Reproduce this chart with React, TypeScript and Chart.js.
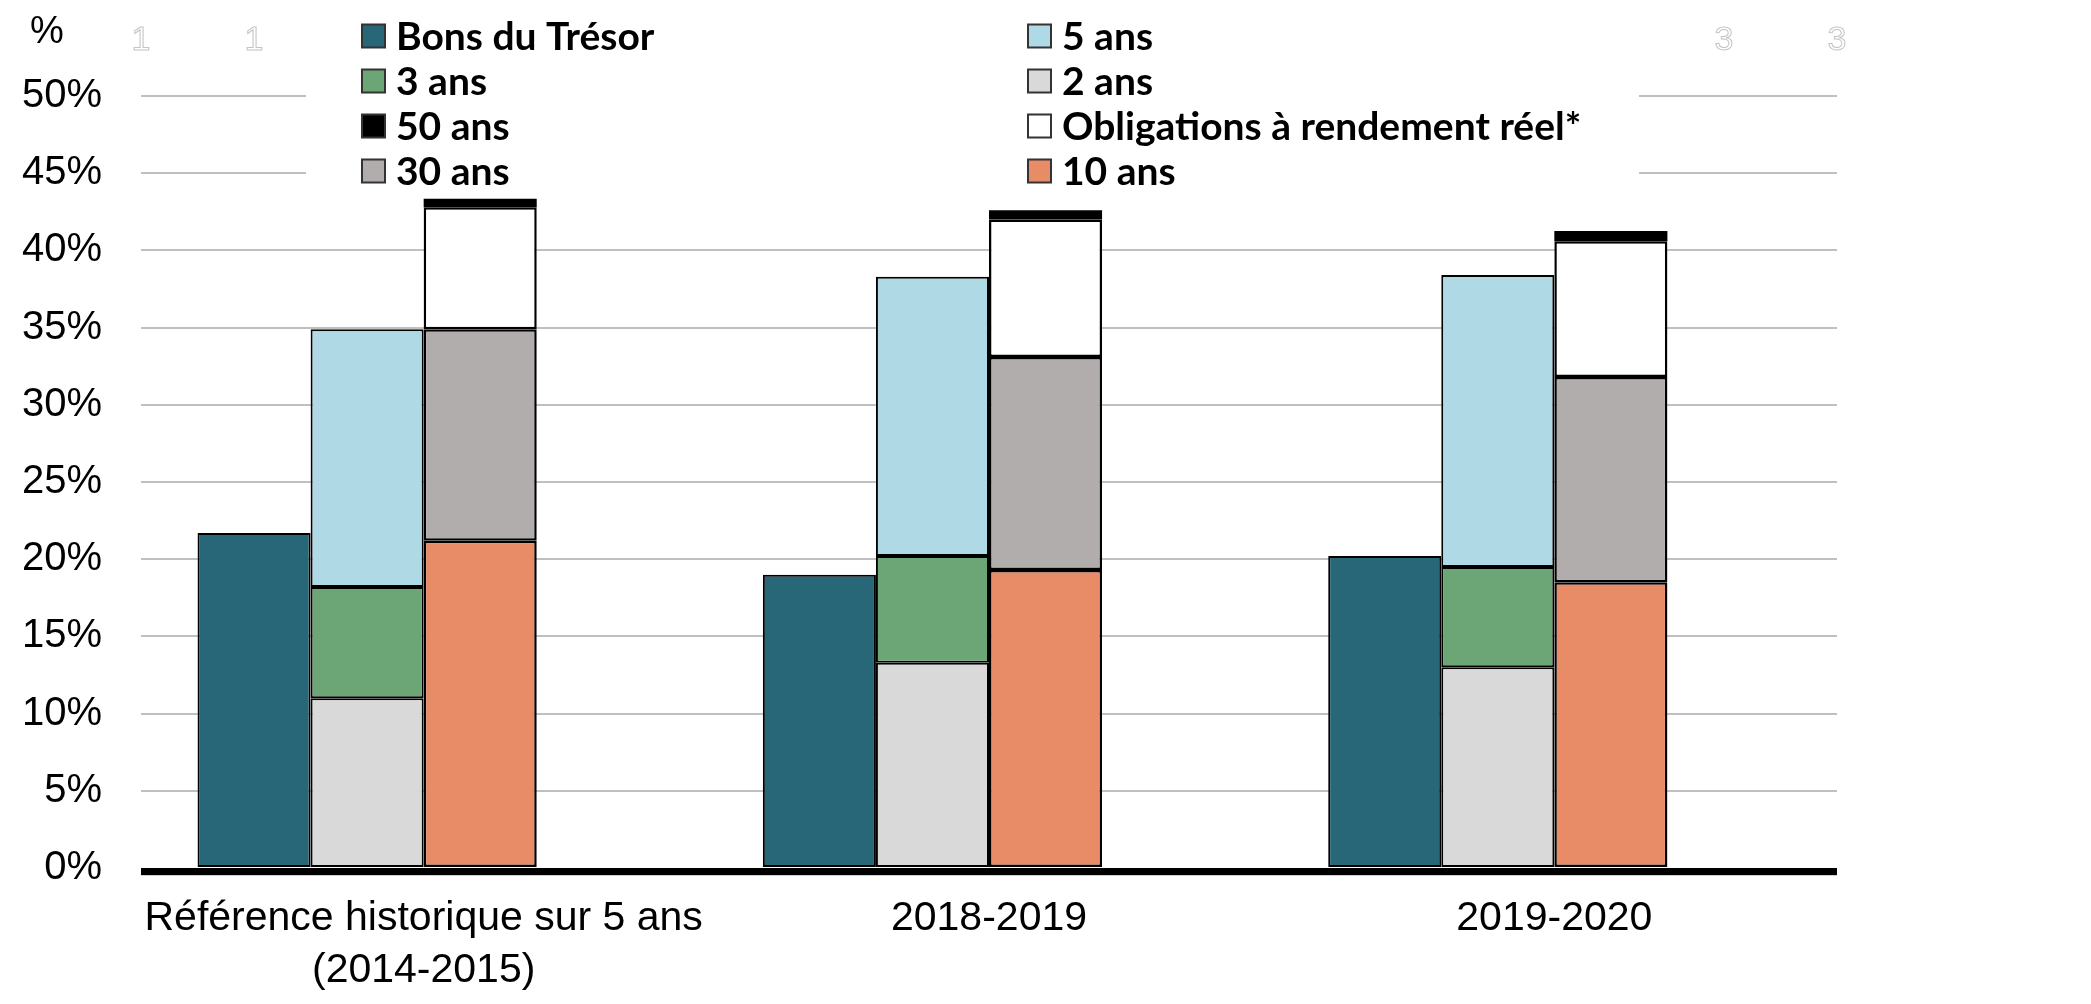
import React, { useEffect, useRef } from "react";
import { Chart, registerables } from "chart.js";

Chart.register(...registerables);

// ---- Data ----
const categories: (string | string[])[] = [
  ["Référence historique sur 5 ans", "(2014-2015)"],
  "2018-2019",
  "2019-2020",
];
const yMin = 0;
const yMax = 50;
const yStep = 5;

const billsValues = [21.7, 19.0, 20.2];
const twoYearValues = [11.0, 13.3, 13.0];
const threeYearValues = [7.2, 6.9, 6.5];
const fiveYearValues = [16.7, 18.1, 18.9];
const tenYearValues = [21.2, 19.3, 18.5];
const thirtyYearValues = [13.7, 13.8, 13.3];
const rrbValues = [7.9, 8.9, 8.8];
const fiftyYearValues = [0.55, 0.6, 0.65];
const spacerValues = [0, 0, 0];

const seriesNames = [
  "Bons du Trésor",
  "2 ans",
  "3 ans",
  "5 ans",
  "10 ans",
  "30 ans",
  "Obligations à rendement réel*",
  "50 ans",
];
const seriesColors = [
  "#286778",
  "#d9d9d9",
  "#6ca676",
  "#b0d9e6",
  "#e88b67",
  "#b0adac",
  "#ffffff",
  "#000000",
];
// legend rows (indices into seriesNames), two columns
const legendRows = [
  [0, 3],
  [2, 1],
  [7, 6],
  [5, 4],
];
const ghostLabels = ["1", "1", "3", "3"];
const ghostFractions = [0, 1 / 15, 14 / 15, 1];

const FONT = "'Liberation Sans', Arial, sans-serif";

const decorPlugin = {
  id: "decor",
  beforeDatasetsDraw(chart: any) {
    const ctx = chart.ctx;
    ctx.save();
    // legend background (hides grid lines behind legend)
    ctx.fillStyle = "#ffffff";
    ctx.fillRect(306, 0, 1639 - 306, 192);
    // legend items
    const colX = [362, 1028];
    const rowY = [36, 81, 126, 171];
    ctx.font = "bold 39px Lato, 'Open Sans', sans-serif";
    ctx.textBaseline = "middle";
    ctx.textAlign = "left";
    legendRows.forEach((row, r) => {
      row.forEach((si, c) => {
        const x = colX[c];
        const y = rowY[r];
        ctx.fillStyle = seriesColors[si];
        ctx.fillRect(x, y - 11.5, 23, 23);
        ctx.lineWidth = 2;
        ctx.strokeStyle = "#333333";
        ctx.strokeRect(x, y - 11.5, 23, 23);
        ctx.fillStyle = "#000000";
        ctx.fillText(seriesNames[si], x + 34, y + 1);
      });
    });
    ctx.restore();
  },
  afterDatasetsDraw(chart: any) {
    const ctx = chart.ctx;
    const ca = chart.chartArea;
    ctx.save();
    // thick baseline
    ctx.fillStyle = "#000000";
    ctx.fillRect(ca.left, ca.bottom, ca.right - ca.left, 7);
    ctx.fillStyle = "#d0d0d0";
    ctx.fillRect(ca.left, ca.bottom + 7, ca.right - ca.left, 1);
    // unit label
    ctx.fillStyle = "#000000";
    ctx.font = `38px ${FONT}`;
    ctx.textAlign = "center";
    ctx.textBaseline = "middle";
    ctx.fillText("%", 47, 33);
    // faint ghost labels of hidden secondary axis
    ctx.font = `34px ${FONT}`;
    ctx.strokeStyle = "#c4c4c4";
    ctx.lineWidth = 1;
    ghostLabels.forEach((t, i) => {
      const x = ca.left + (ca.right - ca.left) * ghostFractions[i];
      ctx.strokeText(t, x, 41);
    });
    ctx.restore();
  },
};

export default function App() {
  const canvasRef = useRef<HTMLCanvasElement | null>(null);

  useEffect(() => {
    if (!canvasRef.current) return;
    const mk = (i: number, data: number[], stack: string, bw: number) => ({
      label: seriesNames[i],
      data,
      stack,
      backgroundColor: seriesColors[i],
      borderColor: "#000000",
      borderWidth: bw,
      borderSkipped: false as const,
    });
    const chart = new Chart(canvasRef.current, {
      type: "bar",
      data: {
        labels: categories,
        datasets: [
          mk(0, billsValues, "a", 2),
          mk(1, twoYearValues, "b", 2),
          mk(2, threeYearValues, "b", 2),
          mk(3, fiveYearValues, "b", 2),
          mk(4, tenYearValues, "c", 2.5),
          mk(5, thirtyYearValues, "c", 2.5),
          mk(6, rrbValues, "c", 2.5),
          mk(7, fiftyYearValues, "c", 0),
          {
            label: "",
            data: spacerValues,
            stack: "d",
            backgroundColor: "rgba(0,0,0,0)",
            borderWidth: 0,
          },
        ],
      },
      options: {
        responsive: true,
        maintainAspectRatio: false,
        animation: false,
        layout: { padding: { top: 96, right: 254, bottom: 0, left: 0 } },
        datasets: { bar: { categoryPercentage: 0.8, barPercentage: 1.0 } },
        plugins: {
          legend: { display: false },
          tooltip: { enabled: false },
          title: { display: false },
        },
        scales: {
          x: {
            stacked: true,
            grid: { display: false, drawTicks: false },
            border: { display: false },
            ticks: {
              color: "#000000",
              padding: 24,
              maxRotation: 0,
              autoSkip: false,
              font: { family: FONT, size: 41, lineHeight: 1.28 },
            },
            afterFit: (s: any) => {
              s.height = 136;
            },
          },
          y: {
            stacked: true,
            min: yMin,
            max: yMax,
            grid: {
              drawTicks: false,
              lineWidth: 2,
              color: (c: any) => (c.tick && c.tick.value === 0 ? "rgba(0,0,0,0)" : "#c0c0c0"),
            },
            border: { display: false },
            ticks: {
              stepSize: yStep,
              color: "#000000",
              padding: 39,
              font: { family: FONT, size: 40 },
              callback: (v: any) => `${v}%`,
            },
            afterFit: (s: any) => {
              s.width = 141;
            },
          },
        },
      },
      plugins: [decorPlugin],
    });
    return () => chart.destroy();
  }, []);

  return (
    <div style={{ position: "fixed", left: 0, top: 0, width: "2091px", height: "1004px", background: "#fff" }}>
      <canvas ref={canvasRef} />
    </div>
  );
}
